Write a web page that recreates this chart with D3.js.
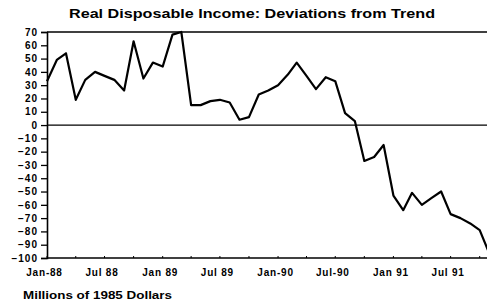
<!DOCTYPE html>
<html>
<head>
  <meta charset="utf-8">
  <script src="https://cdn.jsdelivr.net/npm/d3@7"></script>
  <style>
    body { margin: 0; background: #fff; }
    text { font-family: "Liberation Sans", Arial, sans-serif; font-weight: bold; fill: #000; }
  </style>
</head>
<body>
  <div id="chart"></div>
  <script>
    // monthly deviations, Jan 1988 onwards
    var startMonth = new Date(1988, 0, 1);
    var deviations = [33, 49, 54, 19, 34, 40, 37, 34, 26, 63, 35, 47,
                      44, 68, 70, 15, 15, 18, 19, 17, 4, 6, 23, 26,
                      30, 38, 47, 37, 27, 36, 33, 9, 3, -27, -24, -15,
                      -53, -64, -51, -60, -55, -50, -67, -70, -74, -79, -97];
    var yTicks = [70, 60, 50, 40, 30, 20, 10, 0, -10, -20, -30, -40, -50,
                  -60, -70, -80, -90, -100];
    var xTickDates = [new Date(1988, 0, 1), new Date(1988, 6, 1), new Date(1989, 0, 1),
                      new Date(1989, 6, 1), new Date(1990, 0, 1), new Date(1990, 6, 1),
                      new Date(1991, 0, 1), new Date(1991, 6, 1)];
    var xTickLabels = ["Jan-88", "Jul 88", "Jan 89", "Jul 89", "Jan-90", "Jul-90", "Jan 91", "Jul 91"];

    var width = 487, height = 306;
    var plotLeft = 47, plotTop = 32, plotBottom = 258;

    var data = deviations.map(function(v, i){
      return { date: d3.timeMonth.offset(startMonth, i), value: v };
    });

    var svg = d3.select('#chart').append('svg')
      .attr('width', width).attr('height', height);

    var x = d3.scaleTime()
      .domain([startMonth, d3.timeMonth.offset(startMonth, 46)])
      .range([plotLeft, 489.5]);
    var y = d3.scaleLinear().domain([-100, 70]).range([plotBottom, plotTop]);

    // title
    svg.append('text')
      .attr('x', 252).attr('y', 18)
      .attr('text-anchor', 'middle')
      .style('font-size', '13px')
      .attr('textLength', 366).attr('lengthAdjust', 'spacingAndGlyphs')
      .text('Real Disposable Income: Deviations from Trend');

    // y axis
    var yAxis = d3.axisLeft(y).tickValues(yTicks).tickSize(6).tickPadding(3)
      .tickFormat(d3.format('d'));
    var gy = svg.append('g').attr('transform', 'translate(' + plotLeft + ',0)').call(yAxis);
    gy.select('.domain').attr('stroke-width', 1.6);
    gy.selectAll('.tick line').attr('stroke-width', 1.3);
    gy.selectAll('.tick text').style('font-size', '10px').style('letter-spacing', '1px');

    // x axis
    var xAxis = d3.axisBottom(x).tickValues(xTickDates).tickSize(0).tickPadding(11)
      .tickFormat(function(d, i){ return xTickLabels[i]; });
    var gx = svg.append('g').attr('transform', 'translate(0,' + plotBottom + ')').call(xAxis);
    gx.select('.domain').attr('d', 'M' + plotLeft + ',0H' + width).attr('stroke-width', 1.6);
    gx.selectAll('.tick text').style('font-size', '10px').style('letter-spacing', '0.8px')
      .attr('dx', -3);

    // minor ticks on the bottom axis
    svg.append('g').selectAll('line')
      .data(d3.timeMonth.range(startMonth, d3.timeMonth.offset(startMonth, 46), 3))
      .join('line')
      .attr('x1', function(d){ return x(d); }).attr('x2', function(d){ return x(d); })
      .attr('y1', plotBottom).attr('y2', plotBottom - 2)
      .attr('stroke', '#000').attr('stroke-width', 1);

    // top frame line and zero line
    svg.append('line')
      .attr('x1', plotLeft).attr('x2', width).attr('y1', y(70)).attr('y2', y(70))
      .attr('stroke', '#000').attr('stroke-width', 1.6);
    svg.append('line')
      .attr('x1', plotLeft).attr('x2', width).attr('y1', y(0)).attr('y2', y(0))
      .attr('stroke', '#000').attr('stroke-width', 1.3);

    // the series
    var line = d3.line()
      .x(function(d){ return x(d.date); })
      .y(function(d){ return y(d.value); });
    svg.append('path').datum(data)
      .attr('d', line)
      .attr('fill', 'none').attr('stroke', '#000')
      .attr('stroke-width', 2.2).attr('stroke-linejoin', 'round');

    // units note
    svg.append('text')
      .attr('x', 23).attr('y', 299)
      .style('font-size', '10px')
      .attr('textLength', 149).attr('lengthAdjust', 'spacingAndGlyphs')
      .text('Millions of 1985 Dollars');
  </script>
</body>
</html>
